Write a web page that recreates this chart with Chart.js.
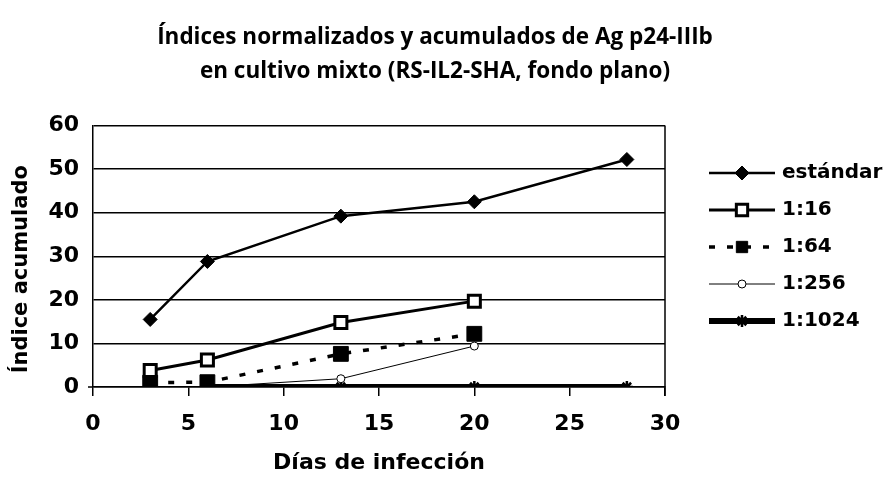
<!DOCTYPE html>
<html>
<head>
<meta charset="utf-8">
<script src="https://cdn.jsdelivr.net/npm/chart.js@4/dist/chart.umd.min.js"></script>
<style>
html,body{margin:0;padding:0;background:#fff;}
#wrap{width:886px;height:479px;}
</style>
</head>
<body>
<div id="wrap"><canvas id="c" width="886" height="479"></canvas></div>
<script>
const titleLines = ["Índices normalizados y acumulados de Ag p24-IIIb", "en cultivo mixto (RS-IL2-SHA, fondo plano)"];
const xTitle = "Días de infección";
const yTitle = "Índice acumulado";
const days = [3, 6, 13, 20, 28];
const seriesNames = ["estándar", "1:16", "1:64", "1:256", "1:1024"];
const estandar = [15.5, 28.8, 39.2, 42.5, 52.2];
const s16 = [3.8, 6.2, 14.8, 19.7, null];
const s64 = [1.0, 1.1, 7.6, 12.2, null];
const s256 = [null, 0, 1.9, 9.4, null];
const s1024 = [null, 0, 0, 0, 0];
const xTicks = [0, 5, 10, 15, 20, 25, 30];
const yTicks = [0, 10, 20, 30, 40, 50, 60];

const TFONT = "'Open Sans', 'DejaVu Sans', sans-serif";
const FONT = "'DejaVu Sans', sans-serif";
function pts(arr){ return days.map((d,i)=>({x:d, y:arr[i]})); }

const datasets = [
  {label: seriesNames[0], data: pts(estandar), borderColor:'#000', backgroundColor:'#000', borderWidth:2.5,
   pointStyle:'rectRot', pointRadius:7, pointBorderWidth:1, pointBackgroundColor:'#000'},
  {label: seriesNames[1], data: pts(s16), borderColor:'#000', backgroundColor:'#fff', borderWidth:3,
   pointStyle:'rect', pointRadius:8.5, pointBorderWidth:3, pointBackgroundColor:'#fff'},
  {label: seriesNames[2], data: pts(s64), borderColor:'#000', backgroundColor:'#000', borderWidth:3.5, borderDash:[6,12],
   pointStyle:'rect', pointRadius:10.5, pointBorderWidth:1, pointBackgroundColor:'#000'},
  {label: seriesNames[3], data: pts(s256), borderColor:'#000', backgroundColor:'#fff', borderWidth:1,
   pointStyle:'circle', pointRadius:4, pointBorderWidth:1, pointBackgroundColor:'#fff'},
  {label: seriesNames[4], data: pts(s1024), borderColor:'#000', backgroundColor:'#000', borderWidth:6,
   pointStyle:'star', pointRadius:6, pointBorderWidth:2.5, pointBackgroundColor:'#000'}
];

const frame = {
  id:'frame',
  beforeDraw(chart){
    const s = chart.scales.y;
    if (s && !s._shifted){
      const orig = s.drawTitle;
      s.drawTitle = function(){ const c = this.ctx; c.save(); c.translate(0, 13); orig.apply(this, arguments); c.restore(); };
      s._shifted = true;
    }
    const t = chart.titleBlock;
    if (t && !t._shifted){
      const od = t.draw;
      t.draw = function(){ const c = this.ctx; c.save(); c.translate(-8, 0); od.apply(this, arguments); c.restore(); };
      t._shifted = true;
    }
  },
  beforeDatasetsDraw(chart){
    const {ctx, chartArea:a} = chart;
    ctx.save();
    ctx.strokeStyle='#000'; ctx.lineWidth=1.5;
    ctx.beginPath(); ctx.moveTo(a.right, a.top); ctx.lineTo(a.right, a.bottom+9); ctx.stroke();
    ctx.beginPath(); ctx.moveTo(a.left-5, a.bottom); ctx.lineTo(a.left, a.bottom); ctx.stroke();
    ctx.restore();
  },
  afterDraw(chart){
    const ctx = chart.ctx;
    const x0 = 709, x1 = 775, tx = 782;
    const ys = [173, 210, 247, 284, 321];
    ctx.save();
    chart.data.datasets.forEach((ds, i) => {
      const y = ys[i];
      ctx.strokeStyle = ds.borderColor; ctx.lineWidth = ds.borderWidth;
      ctx.setLineDash(ds.borderDash || []);
      ctx.beginPath(); ctx.moveTo(x0, y); ctx.lineTo(x1, y); ctx.stroke();
      ctx.setLineDash([]);
      ctx.fillStyle = ds.pointBackgroundColor; ctx.strokeStyle = ds.borderColor; ctx.lineWidth = ds.pointBorderWidth;
      Chart.helpers.drawPoint(ctx, {pointStyle: ds.pointStyle, radius: Math.min(ds.pointRadius, 8), rotation:0, borderWidth: ds.pointBorderWidth}, (x0+x1)/2, y);
      ctx.fillStyle = '#000';
      ctx.font = "bold 20px " + FONT;
      ctx.textBaseline = 'middle'; ctx.textAlign = 'left';
      ctx.fillText(ds.label, tx, y);
    });
    ctx.restore();
  }
};

new Chart(document.getElementById('c'), {
  type:'line',
  data:{datasets},
  options:{
    responsive:false, animation:false, devicePixelRatio:1,
    layout:{padding:0},
    plugins:{
      legend:{display:false},
      tooltip:{enabled:false},
      title:{display:true, text:titleLines, fullSize:true, color:'#000',
        font:{family:TFONT, size:22.5, weight:'bold', lineHeight:1.5}, padding:{top:21, bottom:37}}
    },
    scales:{
      x:{type:'linear', min:0, max:30,
        afterBuildTicks(s){ s.ticks = xTicks.map(v=>({value:v})); },
        afterFit(s){ s.height = 92; },
        grid:{drawOnChartArea:false, drawTicks:true, tickLength:9, color:'#000', lineWidth:1.5},
        border:{display:true, color:'#000', width:1.5},
        ticks:{color:'#000', padding:15, font:{family:FONT, size:22, weight:'bold'}, maxRotation:0},
        title:{display:true, text:xTitle, color:'#000', font:{family:FONT, size:22, weight:'bold'}, padding:{top:0,bottom:3}}
      },
      y:{type:'linear', min:0, max:60,
        afterBuildTicks(s){ s.ticks = yTicks.map(v=>({value:v})); },
        afterFit(s){ s.width = 93; },
        grid:{drawOnChartArea:true, drawTicks:false, color:'#000', lineWidth:1.5},
        border:{display:true, color:'#000', width:1.5},
        ticks:{color:'#000', padding:14, font:{family:FONT, size:22, weight:'bold'}},
        title:{display:true, text:yTitle, color:'#000', font:{family:FONT, size:21, weight:'bold'}, padding:{top:9,bottom:0}}
      },
      yR:{type:'linear', position:'right', display:true,
        afterFit(s){ s.width = 221; },
        grid:{display:false, drawTicks:false}, border:{display:false},
        ticks:{display:false}
      }
    }
  },
  plugins:[frame]
});
</script>
</body>
</html>
